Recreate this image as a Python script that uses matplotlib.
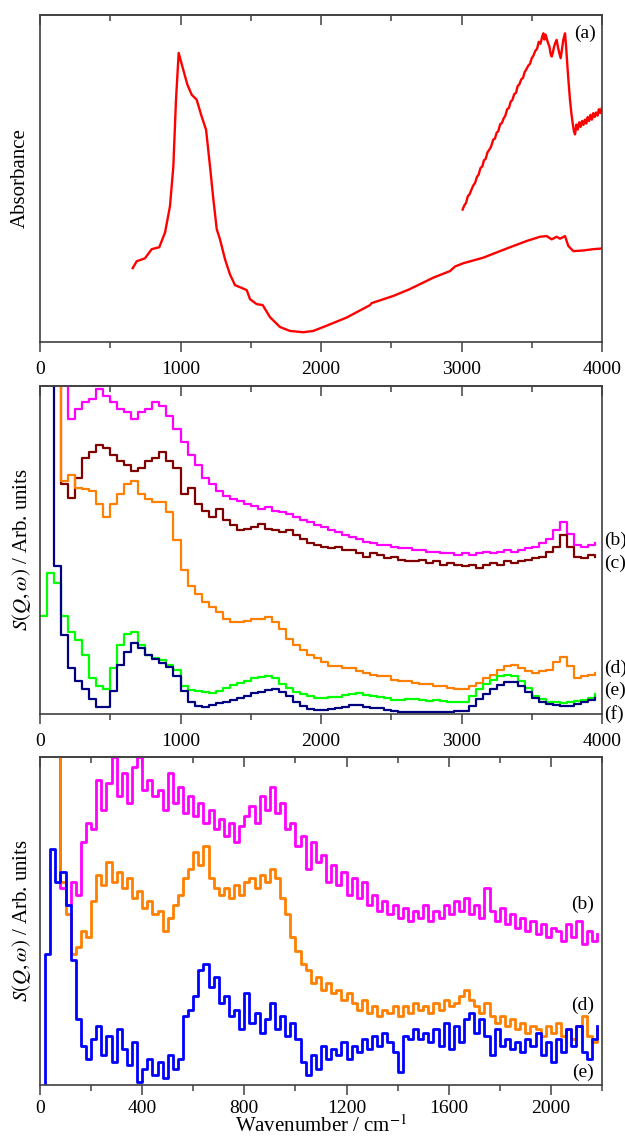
import numpy as np
import matplotlib
matplotlib.use("Agg")
import matplotlib.pyplot as plt
from matplotlib.ticker import MultipleLocator
from matplotlib.transforms import blended_transform_factory

plt.rcParams['font.family'] = ['Liberation Serif', 'DejaVu Serif']
plt.rcParams['mathtext.fontset'] = 'stix'

# ---- panel (a): IR absorbance ----
ir_wn = [660, 688, 747, 795, 849, 890, 925, 949, 968, 987, 1020, 1049, 1080, 1115,
         1151, 1182, 1210, 1234, 1258, 1281, 1317, 1352, 1388, 1471, 1495, 1542, 1585,
         1637, 1708, 1779, 1874, 1945, 2040, 2183, 2349, 2360, 2515, 2633, 2800, 2918,
         2954, 3013, 3155, 3322, 3464, 3559, 3606, 3642, 3677, 3701, 3737, 3760, 3796,
         3867, 3938, 3998]
ir_abs = [0.226, 0.247, 0.256, 0.284, 0.290, 0.335, 0.415, 0.537, 0.741, 0.884, 0.832,
          0.787, 0.756, 0.741, 0.689, 0.649, 0.537, 0.436, 0.345, 0.314, 0.253, 0.207,
          0.174, 0.159, 0.131, 0.116, 0.113, 0.076, 0.046, 0.034, 0.030, 0.034, 0.050,
          0.075, 0.113, 0.119, 0.141, 0.162, 0.197, 0.217, 0.231, 0.241, 0.258, 0.286,
          0.309, 0.322, 0.324, 0.314, 0.322, 0.316, 0.324, 0.294, 0.278, 0.280, 0.284,
          0.286]
# expanded view of the O-H region
ir_wn_x = [3008, 3020, 3032, 3045, 3058, 3070, 3084, 3096, 3110, 3122, 3135, 3148, 3160,
           3172, 3185, 3198, 3210, 3226, 3238, 3250, 3262, 3275, 3288, 3300, 3312, 3325,
           3338, 3350, 3362, 3375, 3388, 3400, 3412, 3425, 3438, 3450, 3462, 3475, 3488,
           3500, 3512, 3525, 3538, 3550, 3562, 3575, 3583, 3590, 3598, 3606, 3615, 3625,
           3635, 3642, 3650, 3660, 3668, 3677, 3685, 3695, 3706, 3715, 3725, 3737, 3745,
           3754, 3763, 3772, 3782, 3791, 3800, 3808, 3818, 3828, 3838, 3848, 3858, 3868,
           3878, 3888, 3898, 3908, 3918, 3928, 3938, 3948, 3958, 3968, 3978, 3988, 3998]
ir_abs_x = [0.405, 0.418, 0.425, 0.446, 0.452, 0.465, 0.479, 0.486, 0.505, 0.512, 0.532,
            0.537, 0.556, 0.560, 0.580, 0.588, 0.597, 0.619, 0.622, 0.640, 0.645, 0.666,
            0.670, 0.684, 0.692, 0.712, 0.716, 0.735, 0.740, 0.758, 0.762, 0.783, 0.788,
            0.803, 0.808, 0.826, 0.834, 0.845, 0.851, 0.868, 0.876, 0.890, 0.897, 0.918,
            0.912, 0.935, 0.944, 0.925, 0.940, 0.929, 0.915, 0.905, 0.880, 0.873, 0.885,
            0.905, 0.915, 0.924, 0.905, 0.885, 0.868, 0.895, 0.925, 0.944, 0.900, 0.842,
            0.790, 0.741, 0.700, 0.670, 0.645, 0.635, 0.665, 0.650, 0.672, 0.658, 0.676,
            0.664, 0.680, 0.668, 0.688, 0.676, 0.695, 0.680, 0.700, 0.688, 0.702, 0.692,
            0.712, 0.700, 0.715]

# ---- panel 2: S(Q,w) 0-4000 cm-1, 50 cm-1 bins ----
nan = np.nan
wn2 = np.arange(0, 4000, 50)
s2_b = [nan, nan, nan, 1.30, 0.90, 0.93, 0.95, 0.96, 0.99, 0.97, 0.95, 0.93, 0.92, 0.90,
        0.92, 0.93, 0.95, 0.94, 0.91, 0.87, 0.83, 0.79, 0.76, 0.72, 0.70, 0.68, 0.665,
        0.655, 0.65, 0.64, 0.635, 0.625, 0.63, 0.62, 0.615, 0.61, 0.60, 0.59, 0.585,
        0.575, 0.57, 0.56, 0.555, 0.545, 0.54, 0.535, 0.525, 0.52, 0.515, 0.515, 0.51,
        0.505, 0.505, 0.50, 0.50, 0.495, 0.495, 0.49, 0.49, 0.485, 0.49, 0.485, 0.49,
        0.495, 0.49, 0.495, 0.50, 0.495, 0.50, 0.505, 0.51, 0.52, 0.535, 0.56, 0.585,
        0.55, 0.515, 0.51, 0.515, 0.52]
s2_c = [nan, nan, 1.30, 0.70, 0.66, 0.72, 0.78, 0.80, 0.82, 0.81, 0.79, 0.77, 0.76, 0.74,
        0.75, 0.77, 0.78, 0.80, 0.77, 0.75, 0.67, 0.69, 0.64, 0.62, 0.60, 0.625, 0.59,
        0.575, 0.56, 0.565, 0.57, 0.58, 0.565, 0.56, 0.555, 0.56, 0.545, 0.535, 0.52,
        0.515, 0.51, 0.505, 0.51, 0.50, 0.50, 0.49, 0.48, 0.49, 0.485, 0.475, 0.48, 0.47,
        0.465, 0.465, 0.47, 0.46, 0.465, 0.455, 0.46, 0.455, 0.45, 0.455, 0.445, 0.455,
        0.46, 0.455, 0.465, 0.46, 0.465, 0.47, 0.475, 0.48, 0.495, 0.51, 0.545, 0.51,
        0.48, 0.475, 0.485, 0.48]
s2_d = [nan, nan, 1.30, 0.71, 0.73, 0.69, 0.685, 0.68, 0.64, 0.60, 0.64, 0.67, 0.70, 0.71,
        0.67, 0.655, 0.645, 0.645, 0.615, 0.53, 0.44, 0.39, 0.365, 0.34, 0.325, 0.31,
        0.29, 0.28, 0.28, 0.285, 0.29, 0.29, 0.295, 0.28, 0.26, 0.23, 0.21, 0.195, 0.18,
        0.17, 0.16, 0.145, 0.145, 0.14, 0.14, 0.13, 0.125, 0.12, 0.115, 0.115, 0.105,
        0.10, 0.10, 0.095, 0.09, 0.09, 0.085, 0.085, 0.08, 0.075, 0.075, 0.085, 0.095,
        0.11, 0.12, 0.135, 0.145, 0.15, 0.14, 0.13, 0.125, 0.13, 0.135, 0.16, 0.175,
        0.145, 0.11, 0.115, 0.12, 0.125]
s2_e = [0.30, 0.43, 0.40, 0.30, 0.25, 0.225, 0.18, 0.11, 0.085, 0.075, 0.14, 0.21, 0.245,
        0.25, 0.21, 0.18, 0.17, 0.165, 0.15, 0.135, 0.085, 0.072, 0.07, 0.066, 0.064,
        0.07, 0.08, 0.088, 0.094, 0.10, 0.11, 0.113, 0.115, 0.11, 0.09, 0.078, 0.068,
        0.062, 0.056, 0.05, 0.049, 0.052, 0.053, 0.058, 0.062, 0.064, 0.058, 0.055, 0.052,
        0.048, 0.044, 0.043, 0.046, 0.045, 0.043, 0.041, 0.042, 0.04, 0.038, 0.036, 0.037,
        0.055, 0.075, 0.09, 0.104, 0.115, 0.12, 0.116, 0.10, 0.08, 0.055, 0.045, 0.038,
        0.035, 0.034, 0.036, 0.04, 0.044, 0.05, 0.062]
s2_f = [nan, 1.30, 0.45, 0.24, 0.14, 0.10, 0.075, 0.045, 0.022, 0.02, 0.07, 0.15, 0.19,
        0.215, 0.20, 0.18, 0.168, 0.155, 0.143, 0.115, 0.07, 0.038, 0.024, 0.022, 0.026,
        0.032, 0.038, 0.044, 0.05, 0.056, 0.063, 0.068, 0.074, 0.076, 0.068, 0.055, 0.035,
        0.024, 0.016, 0.012, 0.012, 0.015, 0.018, 0.022, 0.026, 0.027, 0.022, 0.018, 0.017,
        0.012, 0.009, 0.007, 0.006, 0.006, 0.006, 0.007, 0.006, 0.006, 0.007, 0.008, 0.01,
        0.025, 0.045, 0.062, 0.075, 0.088, 0.096, 0.098, 0.085, 0.066, 0.05, 0.035, 0.03,
        0.026, 0.024, 0.025, 0.03, 0.035, 0.042, 0.05]

# ---- panel 3: low-energy region 0-2200 cm-1, 20 cm-1 bins ----
wn3 = np.arange(0, 2200, 20)
s3_b = [nan, nan, nan, 1.30, 0.60, 0.55, 0.62, 0.58, 0.74, 0.80, 0.78, 0.93, 0.84, 0.92,
        1.00, 0.88, 0.95, 0.86, 0.97, 1.00, 0.90, 0.93, 0.88, 0.90, 0.84, 0.95, 0.86, 0.91,
        0.83, 0.88, 0.82, 0.86, 0.80, 0.84, 0.78, 0.81, 0.76, 0.80, 0.74, 0.79, 0.82, 0.85,
        0.80, 0.88, 0.84, 0.91, 0.83, 0.86, 0.78, 0.80, 0.73, 0.76, 0.66, 0.74, 0.68, 0.70,
        0.62, 0.67, 0.61, 0.65, 0.58, 0.63, 0.57, 0.62, 0.55, 0.58, 0.53, 0.56, 0.52, 0.55,
        0.51, 0.54, 0.50, 0.53, 0.51, 0.55, 0.50, 0.53, 0.51, 0.55, 0.52, 0.56, 0.53, 0.57,
        0.52, 0.55, 0.51, 0.60, 0.53, 0.50, 0.54, 0.49, 0.52, 0.48, 0.51, 0.47, 0.50, 0.46,
        0.49, 0.45, 0.48, 0.47, 0.44, 0.49, 0.45, 0.50, 0.43, 0.47, 0.44, 0.46]
s3_d = [nan, nan, nan, 1.30, 0.62, 0.52, 0.40, 0.42, 0.47, 0.45, 0.56, 0.64, 0.61, 0.68,
        0.62, 0.65, 0.60, 0.63, 0.57, 0.59, 0.54, 0.56, 0.52, 0.53, 0.47, 0.51, 0.55, 0.58,
        0.63, 0.66, 0.71, 0.67, 0.73, 0.63, 0.60, 0.58, 0.60, 0.57, 0.61, 0.58, 0.62, 0.63,
        0.60, 0.64, 0.62, 0.66, 0.63, 0.57, 0.52, 0.45, 0.41, 0.37, 0.35, 0.31, 0.33, 0.29,
        0.31, 0.28, 0.29, 0.26, 0.28, 0.25, 0.23, 0.26, 0.22, 0.24, 0.21, 0.23, 0.22, 0.24,
        0.21, 0.24, 0.22, 0.25, 0.23, 0.24, 0.22, 0.25, 0.23, 0.26, 0.24, 0.25, 0.27, 0.29,
        0.26, 0.24, 0.22, 0.25, 0.21, 0.19, 0.21, 0.18, 0.20, 0.17, 0.19, 0.16, 0.18, 0.17,
        0.15, 0.18, 0.16, 0.19, 0.15, 0.17, 0.14, 0.18, 0.21, 0.15, 0.13, 0.17]
s3_e = [-0.05, 0.40, 0.72, 0.62, 0.65, 0.55, 0.38, 0.20, 0.12, 0.08, 0.14, 0.18, 0.09,
        0.15, 0.07, 0.17, 0.11, 0.06, 0.13, 0.01, 0.05, 0.08, 0.03, 0.07, 0.02, 0.09, 0.05,
        0.08, 0.21, 0.23, 0.27, 0.35, 0.37, 0.30, 0.33, 0.25, 0.27, 0.21, 0.23, 0.17, 0.28,
        0.19, 0.22, 0.16, 0.20, 0.25, 0.17, 0.21, 0.15, 0.19, 0.14, 0.07, 0.03, 0.09, 0.05,
        0.12, 0.08, 0.11, 0.09, 0.13, 0.08, 0.12, 0.10, 0.14, 0.11, 0.15, 0.12, 0.16, 0.13,
        0.10, 0.04, 0.15, 0.14, 0.17, 0.14, 0.16, 0.13, 0.17, 0.12, 0.19, 0.11, 0.18, 0.13,
        0.20, 0.22, 0.16, 0.20, 0.15, 0.09, 0.17, 0.12, 0.14, 0.11, 0.13, 0.10, 0.14, 0.12,
        0.16, 0.09, 0.13, 0.07, 0.14, 0.10, 0.17, 0.12, 0.18, 0.10, 0.08, 0.14, 0.18]

C_B, C_C, C_D, C_E, C_F = "#ff00ff", "#800000", "#ff8000", "#00ff00", "#000080"
C_BLUE = "#0000ff"
SPINE = "0.25"


def style(ax, xmax, major, minor, pad=7):
    ax.set_xlim(0, xmax)
    ax.set_ylim(0, 1)
    ax.set_yticks([])
    ax.xaxis.set_major_locator(MultipleLocator(major))
    ax.xaxis.set_minor_locator(MultipleLocator(minor))
    ax.tick_params(axis='x', which='major', direction='out', length=7, width=1.1,
                   color=SPINE, labelsize=14, pad=pad)
    ax.tick_params(axis='x', which='minor', direction='out', length=4, width=1.1,
                   color=SPINE)
    for s in ax.spines.values():
        s.set_color(SPINE)
        s.set_linewidth(1.2)
    top = ax.secondary_xaxis('top')
    top.xaxis.set_major_locator(MultipleLocator(major))
    top.xaxis.set_minor_locator(MultipleLocator(minor))
    top.tick_params(axis='x', which='major', direction='in', length=7, width=1.1,
                    color=SPINE, labeltop=False)
    top.tick_params(axis='x', which='minor', direction='in', length=4, width=1.1,
                    color=SPINE)
    top.spines['top'].set_color(SPINE)
    top.spines['top'].set_linewidth(1.2)


fig = plt.figure(figsize=(6.25, 11.36), dpi=100)
W = 0.9632 - 0.064
ax1 = fig.add_axes([0.064, 0.6989, W, 0.9868 - 0.6989])
ax2 = fig.add_axes([0.064, 0.3715, W, 0.6602 - 0.3715])
ax3 = fig.add_axes([0.064, 0.0449, W, 0.3336 - 0.0449])

# panel (a)
ax1.plot(ir_wn, ir_abs, color="red", lw=1.7)
ax1.plot(ir_wn_x, ir_abs_x, color="red", lw=1.7)
style(ax1, 4000, 1000, 500)
ax1.set_ylabel("Absorbance", fontsize=15)
ax1.yaxis.set_label_coords(-0.018, 0.5)
ax1.text(3880, 0.945, "(a)", fontsize=14, ha="center", va="center")

# panel 2
for y, c in [(s2_b, C_B), (s2_c, C_C), (s2_d, C_D), (s2_e, C_E), (s2_f, C_F)]:
    ax2.step(wn2, y, where="post", color=c, lw=1.6)
style(ax2, 4000, 1000, 500)
ax2.set_ylabel(r"$S(Q,\omega)$ / Arb. units", fontsize=15)
ax2.yaxis.set_label_coords(-0.012, 0.5)
tr2 = blended_transform_factory(ax2.transAxes, ax2.transData)
for lab, yy in [("(b)", 0.53), ("(c)", 0.46), ("(d)", 0.14), ("(e)", 0.073), ("(f)", 0.0)]:
    ax2.text(1.004, yy, lab, transform=tr2, fontsize=14, ha="left", va="center",
             clip_on=False)

# panel 3
for y, c in [(s3_b, C_B), (s3_d, C_D), (s3_e, C_BLUE)]:
    ax3.step(wn3, y, where="post", color=c, lw=2.0)
style(ax3, 2200, 400, 200, pad=4)
ax3.set_ylabel(r"$S(Q,\omega)$ / Arb. units", fontsize=15)
ax3.yaxis.set_label_coords(-0.012, 0.5)
fig.text(0.5 * (0.064 + 0.9632), 1 - 1126 / 1136, r"Wavenumber / cm$^{-1}$",
         fontsize=15, ha="center", va="center")
for lab, yy in [("(b)", 0.55), ("(d)", 0.244), ("(e)", 0.04)]:
    ax3.text(2125, yy, lab, fontsize=14, ha="center", va="center")

fig.savefig("out.png", dpi=100)
